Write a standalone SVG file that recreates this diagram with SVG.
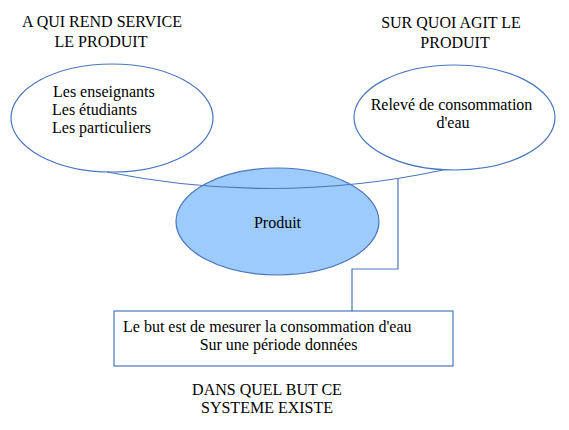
<svg xmlns="http://www.w3.org/2000/svg" width="569" height="430" viewBox="0 0 569 430">
<style>
text{font-family:'Liberation Serif','Times New Roman',serif;font-size:16px;fill:#000}
.ln{fill:none;stroke:#4a76bd;stroke-width:1.2}
.ov{fill:#fff;stroke:#4a76bd;stroke-width:1.2}
.mid{text-anchor:middle}
</style>
<rect width="569" height="430" fill="#fff"/>
<g id="label-service">
<text x="102" y="27" class="mid">A QUI REND SERVICE</text>
<text x="101" y="47" class="mid">LE PRODUIT</text>
</g>
<g id="label-agit">
<text x="451" y="28" class="mid">SUR QUOI AGIT LE</text>
<text x="455" y="48" class="mid">PRODUIT</text>
</g>
<g id="users">
<ellipse class="ov" cx="112" cy="118" rx="101" ry="54"/>
<text x="53" y="97">Les enseignants</text>
<text x="52" y="115">Les étudiants</text>
<text x="52" y="133">Les particuliers</text>
</g>
<g id="matter">
<ellipse class="ov" cx="454.5" cy="117.5" rx="100.5" ry="52.5"/>
<text x="451.5" y="110" class="mid">Relevé de consommation</text>
<text x="453" y="128" class="mid">d'eau</text>
</g>
<g id="produit">
<ellipse cx="277.5" cy="221.5" rx="101.5" ry="53.5" fill="#9dcbfb" stroke="#4a76bd" stroke-width="1.2"/>
<text x="277.5" y="228" class="mid">Produit</text>
</g>
<g id="connectors">
<path class="ln" d="M107 172 Q275 206 443 170"/>
<path class="ln" d="M398 179 V269 H352 V311"/>
</g>
<g id="but">
<rect x="114" y="311" width="339" height="55" fill="#fff" stroke="#4a76bd" stroke-width="1.2"/>
<text x="123" y="332">Le but est de mesurer la consommation d'eau</text>
<text x="278.5" y="350" class="mid">Sur une période données</text>
</g>
<g id="label-but">
<text x="267" y="395" class="mid">DANS QUEL BUT CE</text>
<text x="267" y="413" class="mid">SYSTEME EXISTE</text>
</g>
</svg>
